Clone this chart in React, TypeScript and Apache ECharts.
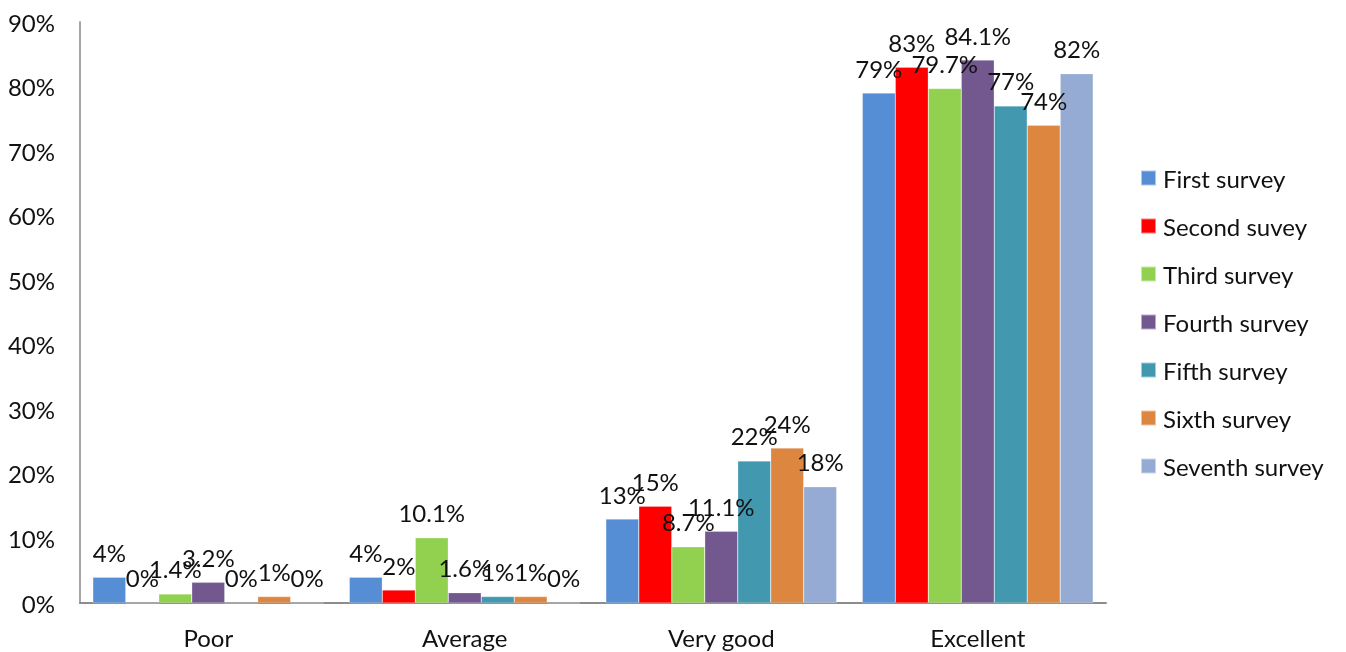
import React, { useEffect, useRef } from "react";
import * as echarts from "echarts";

const categories = ["Poor", "Average", "Very good", "Excellent"];
const seriesNames = [
  "First survey",
  "Second suvey",
  "Third survey",
  "Fourth survey",
  "Fifth survey",
  "Sixth survey",
  "Seventh survey",
];
const firstSurvey = [4, 4, 13, 79];
const secondSurvey = [0, 2, 15, 83];
const thirdSurvey = [1.4, 10.1, 8.7, 79.7];
const fourthSurvey = [3.2, 1.6, 11.1, 84.1];
const fifthSurvey = [0, 1, 22, 77];
const sixthSurvey = [1, 1, 24, 74];
const seventhSurvey = [0, 0, 18, 82];
const colors = ["#558ED5", "#FF0000", "#92D050", "#72588E", "#4198AF", "#DD8640", "#95ABD3"];
const yTicks = [0, 10, 20, 30, 40, 50, 60, 70, 80, 90];

const FONT = "Lato, 'Open Sans', sans-serif";
const FS = 24;

export default function App() {
  const ref = useRef<HTMLDivElement>(null);

  useEffect(() => {
    if (!ref.current) return;
    const chart = echarts.init(ref.current, undefined, { renderer: "svg" });
    const values = [
      firstSurvey,
      secondSurvey,
      thirdSurvey,
      fourthSurvey,
      fifthSurvey,
      sixthSurvey,
      seventhSurvey,
    ];
    chart.setOption({
      animation: false,
      textStyle: { fontFamily: FONT },
      grid: { left: 80, right: 240, top: 22, bottom: 49, containLabel: false },
      legend: {
        orient: "vertical",
        left: 1135,
        top: 161,
        itemWidth: 15,
        itemHeight: 15,
        itemGap: 24,
        icon: "rect",
        textStyle: {
          fontSize: FS,
          lineHeight: 24,
          color: "#111",
          fontFamily: FONT,
          padding: [0, 0, 0, 2],
        },
        data: seriesNames,
      },
      xAxis: {
        type: "category",
        data: categories,
        axisLine: { show: true, lineStyle: { color: "#8c8c8c", width: 2 } },
        axisTick: { show: false },
        axisLabel: { fontSize: FS, color: "#111", margin: 22, fontFamily: FONT },
      },
      yAxis: {
        type: "value",
        min: yTicks[0],
        max: yTicks[yTicks.length - 1],
        interval: 10,
        axisLine: { show: true, lineStyle: { color: "#a6a6a6", width: 2 } },
        axisTick: { show: false },
        splitLine: { show: false },
        axisLabel: {
          fontSize: FS,
          color: "#111",
          margin: 25,
          fontFamily: FONT,
          formatter: (v: number) => `${v}%`,
        },
      },
      series: seriesNames.map((name, i) => ({
        name,
        type: "bar",
        data: values[i],
        barGap: "0%",
        barCategoryGap: "10%",
        itemStyle: { color: colors[i], borderColor: "rgba(255,255,255,0.5)", borderWidth: 0.5 },
        label: {
          show: true,
          position: "top",
          distance: 13,
          fontSize: FS,
          color: "#111",
          fontFamily: FONT,
          formatter: (p: any) => `${p.value}%`,
        },
      })),
    });
    return () => chart.dispose();
  }, []);

  return (
    <div
      ref={ref}
      style={{ position: "fixed", left: 0, top: 0, width: 1346, height: 652 }}
    />
  );
}
